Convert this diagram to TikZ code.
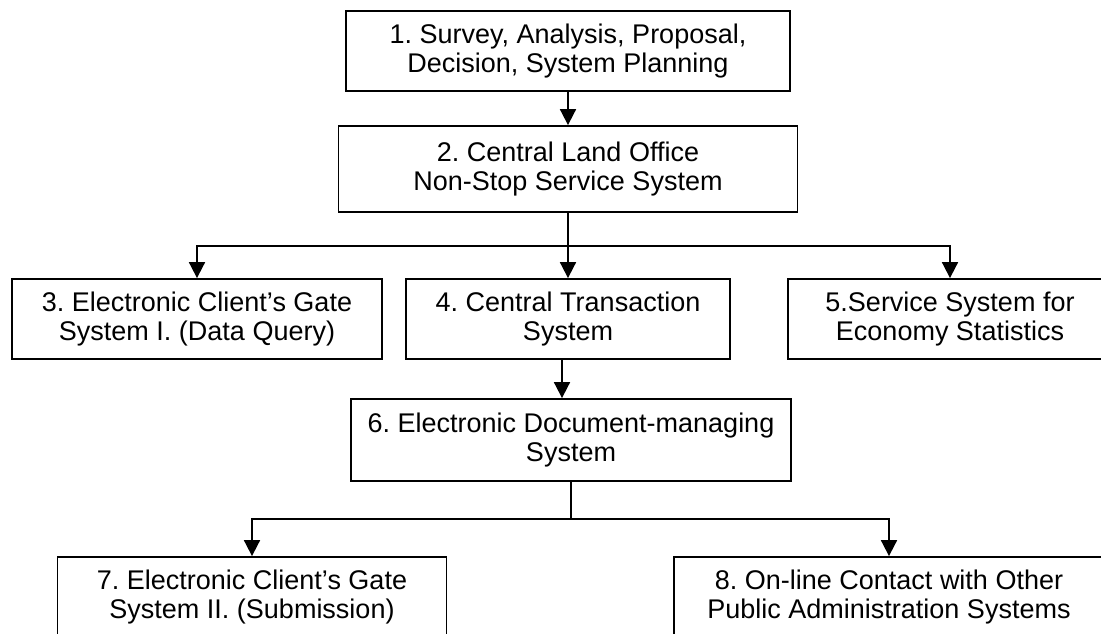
\documentclass[tikz,border=0pt]{standalone}
\usepackage{fontspec}
\setmainfont{Liberation Sans}
\usetikzlibrary{arrows.meta}

\tikzset{
	blok/.style={draw, line width=1.8pt, align=center, inner sep=0pt, font=\fontsize{27}{29}\selectfont},
	arr/.style={line width=1.8pt, -{Triangle[length=16pt,width=16pt]}},
	trunk/.style={line width=1.8pt}
}

\begin{document}
\frenchspacing
\begin{tikzpicture}[x=1pt,y=-1pt]
	\path[use as bounding box, fill=white] (0,0) rectangle (1101,634);
	\clip (0,0) rectangle (1101,634);	%bottom row runs off the page
	
	\node[blok, minimum width=444pt, minimum height=80pt] (survey) at (568,51) {1. Survey, Analysis, Proposal,\\Decision, System Planning};
	\node[blok, minimum width=459pt, minimum height=86pt] (central) at (568,169) {2. Central Land Office\\Non-Stop Service System};
	
	\node[blok, minimum width=370pt, minimum height=80pt] (gate1) at (197,319) {3. Electronic Client’s Gate\\System I. (Data Query)};
	\node[blok, minimum width=324pt, minimum height=80pt] (trans) at (568,319) {4. Central Transaction\\System};
	\node[blok, minimum width=324pt, minimum height=80pt] (stats) at (950,319) {5.Service System for\\Economy Statistics};
	
	\node[blok, minimum width=440pt, minimum height=82pt] (docman) at (571,440) {6. Electronic Document-managing\\System};
	
	\node[blok, minimum width=389pt, minimum height=80pt] (gate2) at (252,597) {7. Electronic Client’s Gate\\System II. (Submission)};
	\node[blok, minimum width=430pt, minimum height=80pt] (contact) at (889,597) {8. On-line Contact with Other\\Public Administration Systems};
	
	\draw[arr] (survey.south) -- (survey.south |- central.north);
	
	%three-way split under box 2
	\draw[trunk] (central.south) -- ++(0,33) coordinate (split1);
	\draw[arr] (split1) -| (gate1.north);
	\draw[arr] (split1) -- (split1 |- trans.north);
	\draw[arr] (split1) -| (stats.north);
	
	\draw[arr] ([xshift=-6pt]trans.south) -- ([xshift=-6pt]trans.south |- docman.north);
	
	%two-way split under box 6
	\draw[trunk] (docman.south) -- ++(0,37) coordinate (split2);
	\draw[arr] (split2) -| (gate2.north);
	\draw[arr] (split2) -| (contact.north);
\end{tikzpicture}
\end{document}
